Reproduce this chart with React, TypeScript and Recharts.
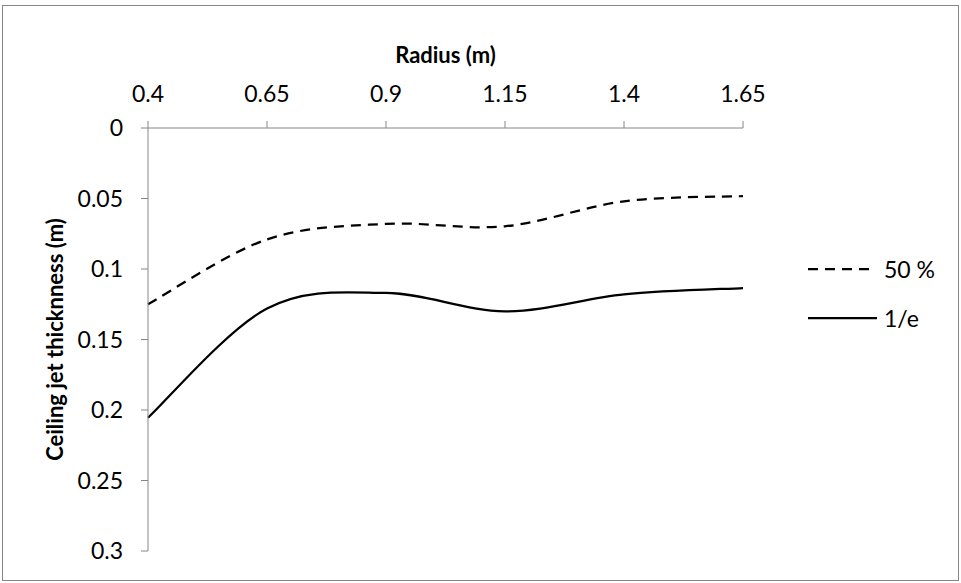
import React from "react";
import { Line, LineChart, XAxis, YAxis } from "recharts";

const radius = [0.4, 0.65, 0.9, 1.15, 1.4, 1.65];
const halfValues = [0.125, 0.079, 0.068, 0.0697, 0.052, 0.0483];
const oneOverEValues = [0.2055, 0.128, 0.117, 0.13, 0.118, 0.1135];
const xTicks = [0.4, 0.65, 0.9, 1.15, 1.4, 1.65];
const yTicks = [0, 0.05, 0.1, 0.15, 0.2, 0.25, 0.3];
const seriesNames = ["50 %", "1/e"];

const data = radius.map((r, i) => ({
  r,
  half: halfValues[i],
  oneOverE: oneOverEValues[i],
}));

const FONT = "Lato, 'Liberation Sans', sans-serif";
const AXIS_GREY = "#868686";

// Excel-style smoothed line (Catmull-Rom as cubic beziers)
function excelSmooth(context: any) {
  let pts: [number, number][] = [];
  return {
    areaStart() {},
    areaEnd() {},
    lineStart() {
      pts = [];
    },
    point(x: number, y: number) {
      pts.push([+x, +y]);
    },
    lineEnd() {
      const n = pts.length;
      if (!n) return;
      context.moveTo(pts[0][0], pts[0][1]);
      for (let i = 0; i < n - 1; i++) {
        const p0 = pts[Math.max(i - 1, 0)];
        const p1 = pts[i];
        const p2 = pts[i + 1];
        const p3 = pts[Math.min(i + 2, n - 1)];
        context.bezierCurveTo(
          p1[0] + (p2[0] - p0[0]) / 6,
          p1[1] + (p2[1] - p0[1]) / 6,
          p2[0] - (p3[0] - p1[0]) / 6,
          p2[1] - (p3[1] - p1[1]) / 6,
          p2[0],
          p2[1]
        );
      }
    },
  };
}

const legendItems = [
  { name: seriesNames[0], dash: "10 7", len: 63 },
  { name: seriesNames[1], dash: undefined, len: 69 },
];

function LegendBox() {
  return (
    <div
      style={{
        position: "absolute",
        left: 808,
        top: 244,
        fontFamily: FONT,
        fontSize: 23,
        color: "#000",
      }}
    >
      {legendItems.map((item) => (
        <div
          key={item.name}
          style={{ height: 49, display: "flex", alignItems: "center" }}
        >
          <svg width={76} height={4} style={{ display: "block" }}>
            <line
              x1={0}
              y1={2}
              x2={item.len}
              y2={2}
              stroke="#000"
              strokeWidth={2.25}
              strokeDasharray={item.dash}
            />
          </svg>
          <span>{item.name}</span>
        </div>
      ))}
    </div>
  );
}

export default function App() {
  return (
    <div style={{ position: "absolute", left: 0, top: 0, width: 961, height: 583 }}>
      <div
        style={{
          position: "absolute",
          left: 2,
          top: 5,
          width: 955,
          height: 574,
          border: `1px solid ${AXIS_GREY}`,
        }}
      />
      <LineChart
        width={961}
        height={583}
        data={data}
        margin={{ top: 0, right: 218, left: 0, bottom: 32 }}
        style={{ position: "absolute", left: 0, top: 0 }}
      >
        <XAxis
          dataKey="r"
          type="number"
          orientation="top"
          domain={[0.4, 1.65]}
          ticks={xTicks}
          interval={0}
          height={128}
          tickSize={7}
          tickMargin={19}
          axisLine={{ stroke: AXIS_GREY }}
          tickLine={{ stroke: AXIS_GREY }}
          tick={{ fill: "#000", fontSize: 23, fontFamily: FONT }}
          label={{
            value: "Radius (m)",
            position: "insideTop",
            offset: 47,
            style: { fill: "#000", fontSize: 22, fontWeight: 700, fontFamily: FONT },
          }}
        />
        <YAxis
          type="number"
          reversed
          domain={[0, 0.3]}
          ticks={yTicks}
          interval={0}
          width={148}
          tickSize={7}
          tickMargin={18}
          axisLine={{ stroke: AXIS_GREY }}
          tickLine={{ stroke: AXIS_GREY }}
          tick={{ fill: "#000", fontSize: 23, fontFamily: FONT }}
          label={{
            value: "Ceiling jet thicknness (m)",
            angle: -90,
            position: "insideLeft",
            offset: 55,
            style: {
              fill: "#000",
              fontSize: 22,
              fontWeight: 700,
              fontFamily: FONT,
              textAnchor: "middle",
            },
          }}
        />
        <Line
          dataKey="half"
          name={seriesNames[0]}
          type={excelSmooth as any}
          stroke="#000"
          strokeWidth={2.25}
          strokeDasharray="10 7"
          dot={false}
          activeDot={false}
          isAnimationActive={false}
        />
        <Line
          dataKey="oneOverE"
          name={seriesNames[1]}
          type={excelSmooth as any}
          stroke="#000"
          strokeWidth={2.25}
          dot={false}
          activeDot={false}
          isAnimationActive={false}
        />
      </LineChart>
      <LegendBox />
    </div>
  );
}
